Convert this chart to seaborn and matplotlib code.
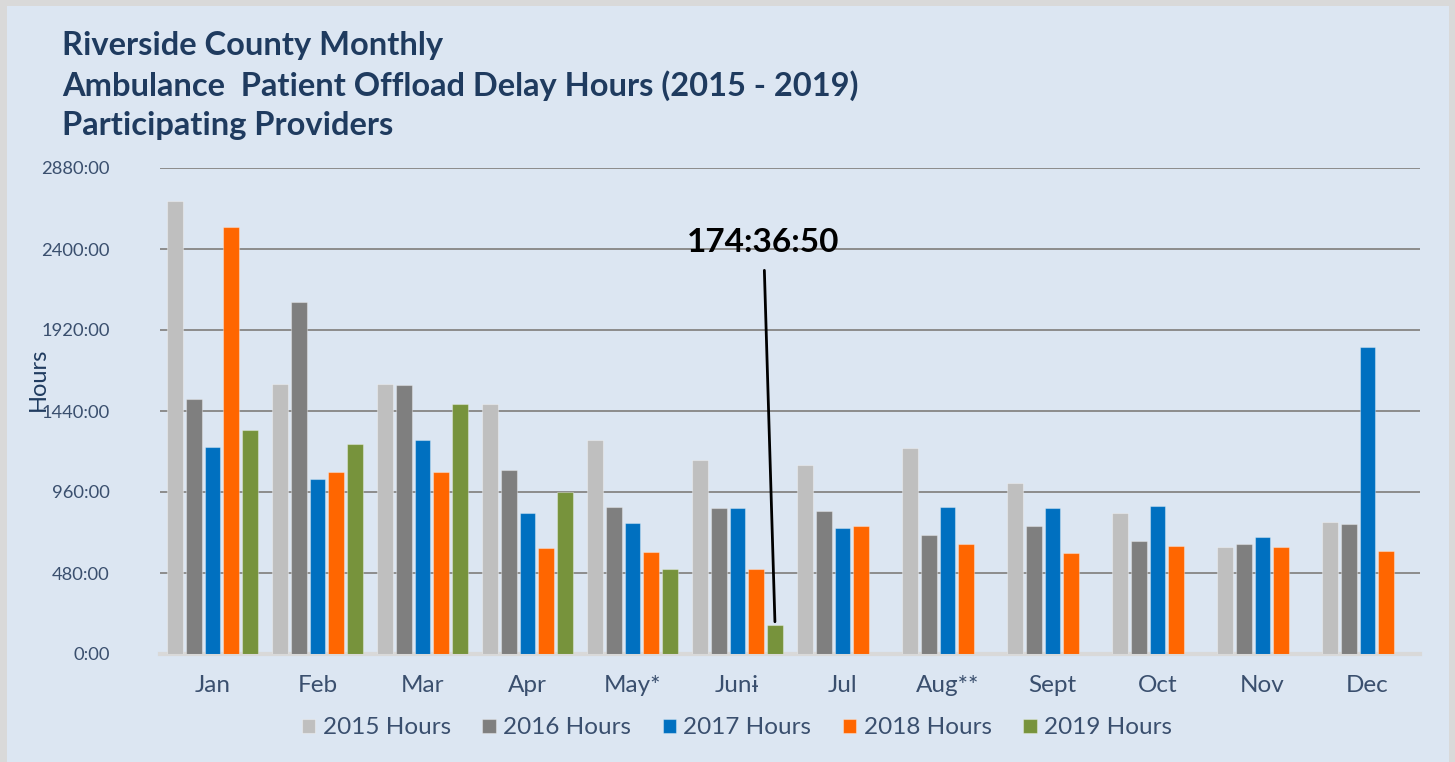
import pandas as pd
import seaborn as sns
import matplotlib.pyplot as plt
from matplotlib.patches import Rectangle
from matplotlib.ticker import FuncFormatter, MultipleLocator

# Monthly offload delay hours
months = ["Jan", "Feb", "Mar", "Apr", "May*", "Jun\u0268", "Jul", "Aug**", "Sept", "Oct", "Nov", "Dec"]
hours_2015 = [2683, 1602, 1602, 1479, 1267, 1151, 1119, 1220, 1012, 838, 632, 782]
hours_2016 = [1511, 2083, 1594, 1091, 869, 863, 845, 708, 761, 669, 653, 768]
hours_2017 = [1228, 1038, 1267, 836, 779, 863, 748, 869, 868, 875, 693, 1820]
hours_2018 = [2533, 1077, 1077, 628, 602, 502, 756, 649, 601, 640, 632, 608]
hours_2019 = [1329, 1246, 1479, 960, 502, 174.6, None, None, None, None, None, None]

series = ["2015 Hours", "2016 Hours", "2017 Hours", "2018 Hours", "2019 Hours"]
colors = ["#BFBFBF", "#7F7F7F", "#0070C0", "#FF6600", "#77933C"]
callout_label = "174:36:50"

rows = []
for name, vals in zip(series, [hours_2015, hours_2016, hours_2017, hours_2018, hours_2019]):
    for m, v in zip(months, vals):
        rows.append({"Month": m, "Series": name, "Hours": v})
df = pd.DataFrame(rows)

bg = "#DCE6F2"
text_col = "#3A4F6E"
title_col = "#1F3B5F"

sns.set_style("white")
plt.rcParams["font.family"] = ["Lato", "DejaVu Sans"]

fig = plt.figure(figsize=(14.55, 7.62), dpi=100)
fig.patch.set_facecolor("#D9D9D9")
fig.patches.append(Rectangle((7 / 1455, 0), 1442 / 1455, 1 - 6 / 762,
                             transform=fig.transFigure, facecolor=bg,
                             edgecolor="none", zorder=-1))

ax = fig.add_axes([160 / 1455, 1 - 654 / 762, 1260 / 1455, 486 / 762])
ax.set_facecolor(bg)
ax.patch.set_alpha(0)

sns.barplot(data=df, x="Month", y="Hours", hue="Series", palette=colors,
            saturation=1, width=0.893, gap=0.16, ax=ax, linewidth=0.8,
            edgecolor=(1, 1, 1, 0.35), legend=True, zorder=3)

ax.set_ylim(0, 2880)
ax.set_xlim(-0.5, len(months) - 0.5)
ax.yaxis.set_major_locator(MultipleLocator(480))
ax.yaxis.set_major_formatter(FuncFormatter(lambda v, p: f"{int(v)}:00"))
ax.grid(axis="y", color="#8C8C8C", linewidth=1.4, zorder=0)
ax.set_axisbelow(True)
for s in ["top", "right", "left"]:
    ax.spines[s].set_visible(False)
ax.spines["bottom"].set_color("#D9D9D9")
ax.spines["bottom"].set_linewidth(3)
ax.tick_params(axis="y", length=0, pad=36, labelsize=13.2, labelcolor=text_col)
ax.tick_params(axis="x", length=0, pad=15, labelsize=17.5, labelcolor=text_col)
ax.set_xlabel("")
ax.set_ylabel("")

# callout for the June 2019 value
jun = months.index("Jun\u0268")
bar_x = jun + 2 * 0.893 / 5
ax.annotate("", xy=(bar_x, hours_2019[jun]), xytext=(jun + 0.255, 2290),
            arrowprops=dict(arrowstyle="-", color="black", linewidth=2), zorder=5)
ax.text(jun + 0.243, 2436, callout_label, ha="center", va="center",
        fontsize=24, fontweight="bold", color="black", zorder=5)

handles, labels = ax.get_legend_handles_labels()
ax.legend_.remove()
fig.legend(handles, labels, loc="center", bbox_to_anchor=(737 / 1455, 1 - 728 / 762),
           ncol=5, frameon=False, fontsize=17.5, handlelength=0.55, handleheight=0.55,
           handletextpad=0.3, columnspacing=1.3, labelcolor=text_col)

fig.text(38 / 1455, 1 - 379 / 762, "Hours", rotation=90, ha="center", va="center",
         fontsize=17, color=title_col)

title_lines = ["Riverside County Monthly",
               "Ambulance  Patient Offload Delay Hours (2015 - 2019)",
               "Participating Providers"]
for i, line in enumerate(title_lines):
    fig.text(62 / 1455, 1 - (46 + 39.5 * i) / 762, line, ha="left", va="center",
             fontsize=23.5, fontweight="bold", color=title_col)

fig.savefig("out.png", dpi=100, facecolor=fig.get_facecolor())
